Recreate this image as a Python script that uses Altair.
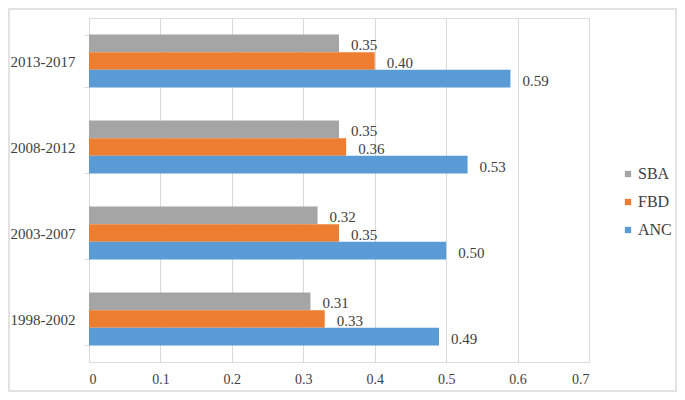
import altair as alt
import pandas as pd

periods = ["2013-2017", "2008-2012", "2003-2007", "1998-2002"]
series = ["SBA", "FBD", "ANC"]
sba = [0.35, 0.35, 0.32, 0.31]
fbd = [0.40, 0.36, 0.35, 0.33]
anc = [0.59, 0.53, 0.50, 0.49]
colors = ["#A5A5A5", "#ED7D31", "#5B9BD5"]
x_ticks = [0, 0.1, 0.2, 0.3, 0.4, 0.5, 0.6, 0.7]

rows = []
for name, vals in zip(series, [sba, fbd, anc]):
    for p, v in zip(periods, vals):
        rows.append({"period": p, "series": name, "value": v})
df = pd.DataFrame(rows)

FONT = "Liberation Serif"
TXT = "#404040"
GRID = "#D9D9D9"

base = alt.Chart(df).encode(
    y=alt.Y("period:N", sort=periods, title=None,
            scale=alt.Scale(paddingInner=0.384, paddingOuter=0.192),
            axis=alt.Axis(domainColor=GRID, tickColor=GRID, tickSize=5,
                          tickBand="extent", labelFont=FONT, labelFontSize=15,
                          labelColor=TXT, labelPadding=9, grid=False)),
    yOffset=alt.YOffset("series:N", sort=series,
                        scale=alt.Scale(paddingInner=0, paddingOuter=0)),
    x=alt.X("value:Q", title=None,
            scale=alt.Scale(domain=[0, 0.7], nice=False),
            axis=alt.Axis(values=x_ticks, grid=True, gridColor=GRID,
                          domain=False, ticks=False, labelFont=FONT,
                          labelFontSize=14, labelColor=TXT, labelPadding=10,
                          labelExpr="datum.value == 0 ? '0' : format(datum.value, '.1f')")),
)

bars = base.mark_bar().encode(
    color=alt.Color("series:N", sort=series,
                    scale=alt.Scale(domain=series, range=colors),
                    legend=alt.Legend(title=None, orient="none", legendX=531,
                                      legendY=148, symbolType="square",
                                      symbolSize=40, symbolStrokeWidth=0,
                                      labelFont=FONT, labelFontSize=16,
                                      labelColor=TXT, rowPadding=12,
                                      labelOffset=2, padding=0)),
)

labels = base.mark_text(align="left", baseline="middle", dx=12, dy=2,
                        font=FONT, fontSize=15, color=TXT).encode(
    text=alt.Text("value:Q", format=".2f"),
)

border = alt.Chart(pd.DataFrame({"a": [0]})).mark_rect(
    fillOpacity=0, stroke=GRID, strokeWidth=1.5
).encode(
    x=alt.value(-80), x2=alt.value(587), y=alt.value(-9), y2=alt.value(373)
)

chart = alt.layer(bars, labels, border).properties(
    width=500, height=344,
    autosize=alt.AutoSizeParams(type="none"),
    padding={"left": 81, "top": 10, "right": 88, "bottom": 30},
).configure_view(stroke=None).configure(background="white")

chart.save("out.html", embed_options={"renderer": "svg", "actions": False})
